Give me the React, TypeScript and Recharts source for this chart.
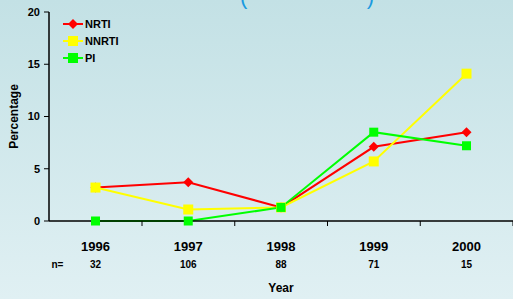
import { LineChart, Line, XAxis, YAxis } from "recharts";

const years = ["1996", "1997", "1998", "1999", "2000"];
const counts = ["32", "106", "88", "71", "15"];
const nrti = [3.2, 3.7, 1.3, 7.1, 8.5];
const nnrti = [3.2, 1.1, 1.3, 5.7, 14.1];
const pi = [0, 0, 1.3, 8.5, 7.2];
const yTicks = [0, 5, 10, 15, 20];

const chartData = years.map((year, i) => ({
  year,
  n: counts[i],
  nrti: nrti[i],
  nnrti: nnrti[i],
  pi: pi[i],
}));

const FONT = "'Liberation Sans', Arial, sans-serif";
const HALF_BAND = 46.5;

const Diamond = (props: any) => {
  const { cx, cy, fill } = props;
  if (cx == null || cy == null) return null;
  const r = 5;
  return (
    <polygon
      points={`${cx},${cy - r} ${cx + r},${cy} ${cx},${cy + r} ${cx - r},${cy}`}
      fill={fill}
    />
  );
};

const Square = (size: number) => (props: any) => {
  const { cx, cy, fill } = props;
  if (cx == null || cy == null) return null;
  return <rect x={cx - size / 2} y={cy - size / 2} width={size} height={size} fill={fill} />;
};

const YearTick = (props: any) => {
  const { x, y, payload, index } = props;
  return (
    <g>
      <line x1={x + HALF_BAND} x2={x + HALF_BAND} y1={y} y2={y + 5} stroke="#000" strokeWidth={1} />
      <text x={x} y={y + 30} textAnchor="middle" fontSize={13} fontWeight="bold" fontFamily={FONT} fill="#000">
        {payload.value}
      </text>
      <text x={x} y={y + 47} textAnchor="middle" fontSize={10} fontWeight="bold" fontFamily={FONT} fill="#000">
        {counts[index]}
      </text>
      {index === 0 && (
        <text x={x - 38} y={y + 47} textAnchor="middle" fontSize={10} fontWeight="bold" fontFamily={FONT} fill="#000">
          n=
        </text>
      )}
    </g>
  );
};

const legendItems = [
  { name: "NRTI", color: "#ff0000", shape: "diamond" },
  { name: "NNRTI", color: "#ffff00", shape: "square" },
  { name: "PI", color: "#00ff00", shape: "square" },
];

export default function App() {
  return (
    <div
      style={{
        position: "fixed",
        left: 0,
        top: 0,
        width: 513,
        height: 299,
        overflow: "hidden",
        background: "linear-gradient(to bottom, #c3e1e5, #e0f0f3)",
        fontFamily: FONT,
      }}
    >
      <div
        style={{
          position: "absolute",
          left: 240,
          top: -16,
          width: 134,
          color: "#1a9ae0",
          fontSize: 22,
          display: "flex",
          justifyContent: "space-between",
        }}
      >
        <span>(</span>
        <span>)</span>
      </div>
      <div style={{ position: "absolute", left: 62, top: 15 }}>
        {legendItems.map((it) => (
          <div key={it.name} style={{ display: "flex", alignItems: "center", height: 17 }}>
            <svg width={22} height={12}>
              <line x1={1} x2={21} y1={6} y2={6} stroke={it.color} strokeWidth={2} />
              {it.shape === "diamond" ? (
                <polygon points="11,1 16,6 11,11 6,6" fill={it.color} />
              ) : (
                <rect x={6} y={1} width={10} height={10} fill={it.color} />
              )}
            </svg>
            <span style={{ fontSize: 11, fontWeight: "bold", marginLeft: 1 }}>{it.name}</span>
          </div>
        ))}
      </div>
      <LineChart
        width={513}
        height={299}
        data={chartData}
        margin={{ top: 12, right: 0, bottom: 0, left: 0 }}
      >
        <XAxis
          dataKey="year"
          padding={{ left: HALF_BAND, right: HALF_BAND }}
          height={78}
          tickSize={0}
          tickMargin={0}
          tickLine={false}
          axisLine={{ stroke: "#000", strokeWidth: 1.5 }}
          tick={<YearTick />}
          interval={0}
          label={{
            value: "Year",
            position: "insideBottom",
            offset: 7,
            fill: "#000",
            fontSize: 12,
            fontWeight: "bold",
            fontFamily: FONT,
          }}
        />
        <YAxis
          domain={[0, 20]}
          ticks={yTicks}
          width={49}
          tickSize={5}
          tickMargin={4}
          axisLine={{ stroke: "#000", strokeWidth: 1.5 }}
          tickLine={{ stroke: "#000" }}
          tick={{ fill: "#000", fontSize: 11, fontWeight: "bold", fontFamily: FONT }}
          label={{
            value: "Percentage",
            angle: -90,
            position: "insideLeft",
            offset: 14,
            style: { textAnchor: "middle" },
            fill: "#000",
            fontSize: 12,
            fontWeight: "bold",
            fontFamily: FONT,
          }}
        />
        <Line
          dataKey="nrti"
          stroke="#ff0000"
          strokeWidth={2}
          dot={<Diamond fill="#ff0000" />}
          isAnimationActive={false}
        />
        <Line
          dataKey="nnrti"
          stroke="#ffff00"
          strokeWidth={2}
          dot={Square(10)}
          fill="#ffff00"
          isAnimationActive={false}
        />
        <Line
          dataKey="pi"
          stroke="#00ff00"
          strokeWidth={2}
          dot={Square(9)}
          fill="#00ff00"
          isAnimationActive={false}
        />
      </LineChart>
    </div>
  );
}
